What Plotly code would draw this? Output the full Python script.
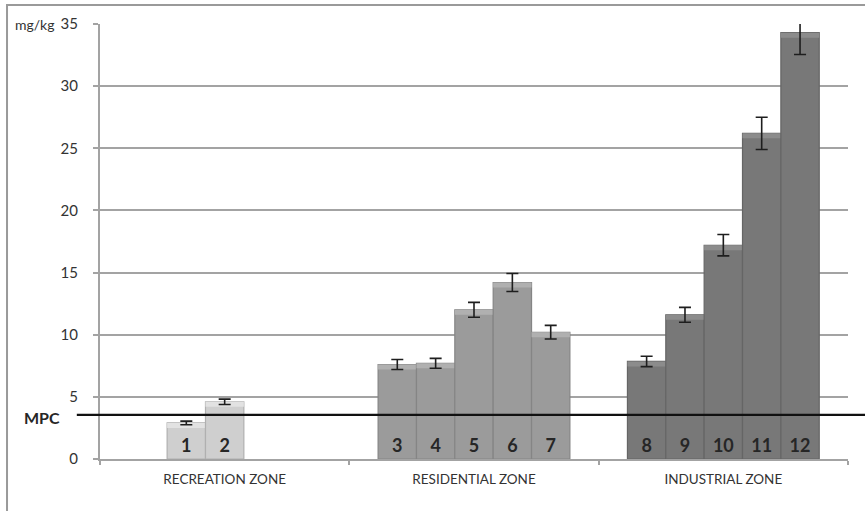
import plotly.graph_objects as go

# Zones on the x axis
zones = ["RECREATION ZONE", "RESIDENTIAL ZONE", "INDUSTRIAL ZONE"]

# Sampling sites, the zone each belongs to and its series slot within the zone
site_ids = [1, 2, 3, 4, 5, 6, 7, 8, 9, 10, 11, 12]
site_zone = [0, 0, 1, 1, 1, 1, 1, 2, 2, 2, 2, 2]
site_series = [1, 2, 0, 1, 2, 3, 4, 0, 1, 2, 3, 4]

# Concentration (mg/kg) and standard error per site
conc = [2.9, 4.6, 7.6, 7.7, 12.0, 14.2, 10.2, 7.85, 11.6, 17.2, 26.2, 34.3]
err = [0.15, 0.22, 0.4, 0.4, 0.6, 0.72, 0.55, 0.42, 0.6, 0.86, 1.3, 1.75]

# Maximum permissible concentration
mpc = 3.55

y_ticks = [0, 5, 10, 15, 20, 25, 30, 35]

zone_colors = ["#cfcfcf", "#9b9b9b", "#787878"]
bevel_colors = ["#e2e2e2", "#b0b0b0", "#8c8c8c"]
edge_colors = ["#b0b0b0", "#858585", "#656565"]
BEVEL = 0.4  # depth of the lighter cap band, in mg/kg

FONT = "Lato, 'Open Sans', sans-serif"
GRID = "#a3a3a3"

fig = go.Figure()

n_series = max(site_series) + 1
for s in range(n_series):
    ys, errs, texts, cols, caps, edges, bases, bands = [], [], [], [], [], [], [], []
    for z in range(len(zones)):
        idx = [i for i in range(len(site_ids)) if site_zone[i] == z and site_series[i] == s]
        if idx:
            i = idx[0]
            ys.append(conc[i])
            errs.append(err[i])
            texts.append(str(site_ids[i]))
            bases.append(conc[i] - BEVEL)
            bands.append(BEVEL)
        else:
            ys.append(None)
            errs.append(None)
            texts.append("")
            bases.append(None)
            bands.append(None)
        cols.append(zone_colors[z])
        caps.append(bevel_colors[z])
        edges.append(edge_colors[z])
    # column body with the site number at its foot
    fig.add_trace(go.Bar(
        x=zones, y=ys, text=texts, offsetgroup=str(s),
        textposition="inside", insidetextanchor="start",
        textangle=0, constraintext="none",
        textfont=dict(family=FONT, size=18, color="#262626", weight="bold"),
        marker=dict(color=cols, line=dict(color=edges, width=1.2)),
        showlegend=False, hoverinfo="skip",
    ))
    # lighter cap band on top of the column, carrying the error bar
    fig.add_trace(go.Bar(
        x=zones, y=bands, base=bases, offsetgroup=str(s),
        marker=dict(color=caps, line=dict(width=0)),
        error_y=dict(type="data", array=errs, color="#1e1e1e", thickness=1.6, width=6),
        showlegend=False, hoverinfo="skip",
    ))

# MPC threshold line, running past the plot area on both sides
fig.add_shape(type="line", xref="paper", yref="y",
              x0=-0.031, x1=1.03, y0=mpc, y1=mpc,
              line=dict(color="#111111", width=2.2), layer="above")

# Outer frame
fig.add_shape(type="rect", xref="paper", yref="paper",
              x0=-0.1243, x1=1.05, y0=-0.2, y1=1.0437,
              line=dict(color="#9a9a9a", width=2), layer="below")

fig.add_annotation(text="MPC", xref="paper", yref="y", x=-0.0775, y=3.3,
                   showarrow=False, xanchor="center", yanchor="middle",
                   font=dict(family=FONT, size=16, color="#262626", weight="bold"))
fig.add_annotation(text="mg/kg", xref="paper", yref="y", x=-0.057, y=35,
                   showarrow=False, xanchor="right", yanchor="middle",
                   font=dict(family=FONT, size=14, color="#333333"))

fig.update_layout(
    width=865, height=511,
    margin=dict(l=100, r=17, t=24, b=52),
    paper_bgcolor="white", plot_bgcolor="white",
    barmode="group", bargap=0.2308, bargroupgap=0,
    font=dict(family=FONT, color="#333333"),
    xaxis=dict(
        type="category", tickson="boundaries", ticks="outside", ticklen=4,
        tickcolor=GRID, tickwidth=1.5, showline=True, linecolor=GRID, linewidth=2,
        showgrid=False, tickfont=dict(size=13.5, color="#333333"),
        ticklabelstandoff=7,
    ),
    yaxis=dict(
        range=[0, 35], tickvals=y_ticks, ticks="outside", ticklen=5,
        tickcolor=GRID, tickwidth=1.5, showline=True, linecolor=GRID, linewidth=2,
        showgrid=True, gridcolor=GRID, gridwidth=2, zeroline=False,
        tickfont=dict(size=15, color="#333333"), ticklabelstandoff=12,
    ),
)

fig.write_html("out.html")
